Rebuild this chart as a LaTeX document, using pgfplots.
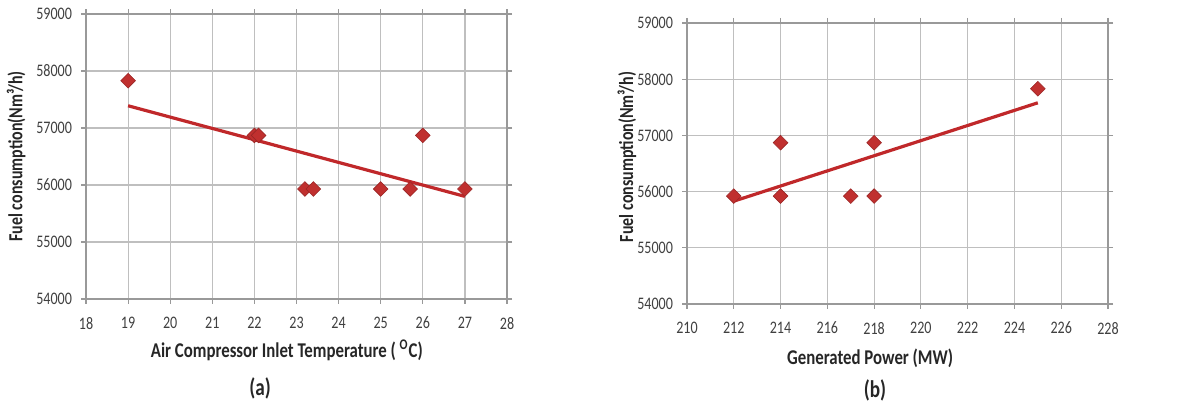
\documentclass[border=0pt]{standalone}
\usepackage{pgfplots}
\pgfplotsset{compat=1.18}
\usepackage{fontspec}
\setmainfont{Carlito}[FakeStretch=0.8, BoldFont={Carlito Bold}, BoldFeatures={FakeStretch=0.8}]
\definecolor{mk}{HTML}{C0302F}
\definecolor{tl}{HTML}{C0282A}
\definecolor{gridc}{HTML}{BFBFBF}
\definecolor{tick}{HTML}{404040}
\newcommand{\labfont}{\fontsize{10.5}{12}\selectfont\bfseries}
\newcommand{\ylabfont}{\fontsize{10}{12}\selectfont\bfseries}
\newcommand{\subfont}{\fontsize{12}{14}\selectfont\bfseries}
\pgfplotsset{
  myax/.style={
    scale only axis,
    anchor=south west,
    width=210.5pt,
    ymin=54000, ymax=59000,
    ytick={54000,55000,56000,57000,58000,59000},
    scaled y ticks=false,
    grid=major,
    major grid style={gridc, line width=0.6pt},
    axis line style={gridc!80!black, line width=0.6pt},
    tick align=outside,
    major tick length=2.5pt,
    tick style={gridc!80!black, line width=0.6pt},
    /pgf/number format/assume math mode=true,
    /pgf/number format/set thousands separator={},
    ticklabel style={font=\fontsize{8.8}{9}\selectfont, text=tick},
    yticklabel style={xshift=-1pt},
    xticklabel style={yshift=-3pt},
  },
  pts/.style={only marks, mark=square*, mark size=2.6pt, mark options={rotate=45, fill=mk, draw=mk!80!black, line width=0.3pt}},
  trend/.style={no marks, tl, line width=1.6pt},
}
\begin{document}
\begin{tikzpicture}
\path[use as bounding box] (0,0) rectangle (594pt,202.5pt);
\begin{axis}[myax,
  at={(43pt,53pt)}, height=142.5pt,
  xmin=18, xmax=28, xtick={18,19,...,28},
  xlabel={\labfont Air Compressor Inlet Temperature ( \textsuperscript{O}C)},
  ylabel={\ylabfont Fuel consumption(Nm³/h)},
  every axis x label/.style={at={(axis description cs:0.477,-0.179)}, anchor=center, text=black!85},
  every axis y label/.style={at={(axis description cs:-0.166,0.5)}, anchor=center, rotate=90, text=black!85},
]
\addplot[pts] coordinates {
 (19,57830) (22,56870) (22.1,56870) (23.2,55930) (23.4,55930)
 (25,55930) (25.7,55930) (26,56870) (27,55930)};
\addplot[trend] coordinates {(19,57390) (27,55800)};
\end{axis}
\node[font=\subfont, text=black!85] at (130pt,8.5pt) {(a)};
\begin{axis}[myax,
  at={(343.5pt,50.5pt)}, height=140.5pt,
  xmin=210, xmax=228, xtick={210,212,...,228},
  xlabel={\labfont Generated Power (MW)},
  ylabel={\ylabfont Fuel consumption(Nm³/h)},
  every axis x label/.style={at={(axis description cs:0.435,-0.192)}, anchor=center, text=black!85},
  every axis y label/.style={at={(axis description cs:-0.1425,0.523)}, anchor=center, rotate=90, text=black!85},
]
\addplot[pts] coordinates {
 (212,55920) (214,56870) (214,55920) (217,55920) (218,56870) (218,55920) (225,57830)};
\addplot[trend] coordinates {(212,55830) (225,57580)};
\end{axis}
\node[font=\subfont, text=black!85] at (437.5pt,7.5pt) {(b)};
\end{tikzpicture}
\end{document}
